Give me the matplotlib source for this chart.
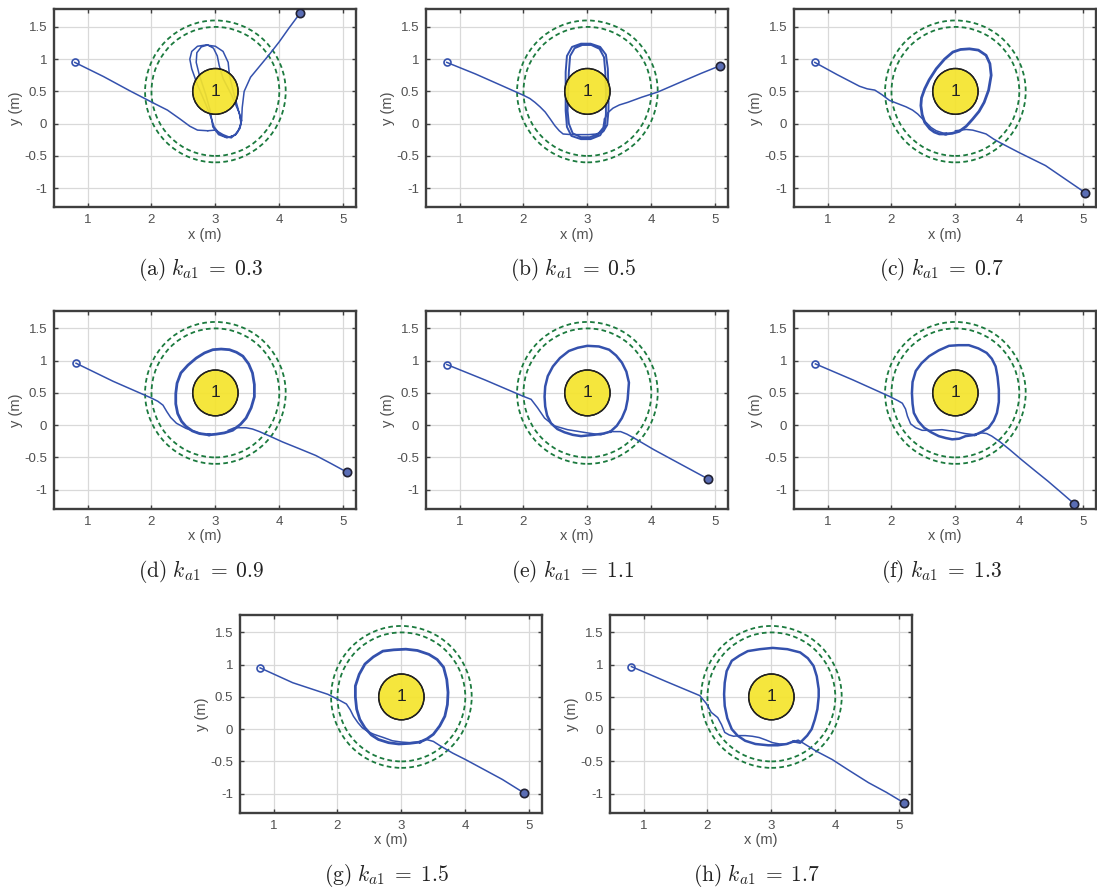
import matplotlib
matplotlib.use('Agg')
import matplotlib.pyplot as plt
from matplotlib.patches import Circle

plt.rcParams['font.family'] = ['Liberation Sans', 'DejaVu Sans']
plt.rcParams['mathtext.fontset'] = 'cm'

# ---------------- data ----------------
gains = ['0.3', '0.5', '0.7', '0.9', '1.1', '1.3', '1.5', '1.7']
letters = ['a', 'b', 'c', 'd', 'e', 'f', 'g', 'h']

xticks = [1, 2, 3, 4, 5]
xtick_labels = ['1', '2', '3', '4', '5']
yticks = [-1, -0.5, 0, 0.5, 1, 1.5]
ytick_labels = ['-1', '-0.5', '0', '0.5', '1', '1.5']

obstacle_center = (3.0, 0.5)
obstacle_radius = 0.355
safety_radii = [1.0, 1.1]
obstacle_label = '1'

a_approach = [(0.80, 0.95), (1.25, 0.73), (1.66, 0.51), (2.05, 0.31), (2.25, 0.21), (2.45, 0.07),
              (2.60, -0.04), (2.72, -0.10), (2.88, -0.11)]
a_loop = [(2.88, -0.11), (3.00, -0.10), (3.12, -0.17), (3.22, -0.21), (3.32, -0.17), (3.39, -0.05),
          (3.40, 0.05), (3.35, 0.25), (3.28, 0.50), (3.22, 0.75), (3.20, 0.95), (3.12, 1.12),
          (3.00, 1.20), (2.85, 1.22), (2.72, 1.20), (2.63, 1.12), (2.60, 1.00), (2.63, 0.85),
          (2.72, 0.60), (2.85, 0.30), (2.93, 0.10), (2.98, -0.05), (3.06, -0.15), (3.15, -0.20),
          (3.25, -0.22), (3.35, -0.13), (3.40, 0.00), (3.38, 0.15), (3.25, 0.45), (3.12, 0.70),
          (3.06, 0.90), (3.03, 1.05), (2.97, 1.17), (2.88, 1.22), (2.78, 1.19), (2.71, 1.10),
          (2.70, 0.95), (2.75, 0.75), (2.85, 0.45), (2.92, 0.20), (2.96, -0.05), (3.05, -0.17),
          (3.18, -0.22), (3.30, -0.18), (3.38, -0.08), (3.41, 0.05)]
a_exit = [(3.41, 0.05), (3.42, 0.25), (3.45, 0.50), (3.55, 0.72), (3.70, 0.90), (3.85, 1.08),
          (4.00, 1.27), (4.15, 1.48), (4.33, 1.72)]

b_approach = [(0.80, 0.95), (1.25, 0.77), (1.66, 0.59), (2.00, 0.44), (2.10, 0.39), (2.18, 0.33),
              (2.26, 0.26), (2.34, 0.18), (2.42, 0.07), (2.49, -0.03), (2.56, -0.11), (2.62, -0.16),
              (2.75, -0.17), (2.90, -0.17), (3.02, -0.17), (3.15, -0.16)]
b_loop = [(3.15, -0.16), (3.25, -0.12), (3.31, -0.02), (3.33, 0.20), (3.33, 0.50), (3.32, 0.85),
          (3.29, 1.07), (3.20, 1.19), (3.05, 1.24), (2.90, 1.24), (2.76, 1.19), (2.68, 1.05),
          (2.66, 0.80), (2.66, 0.50), (2.66, 0.20), (2.68, -0.05), (2.75, -0.19), (2.90, -0.24),
          (3.05, -0.24), (3.20, -0.18), (3.27, -0.06), (3.29, 0.15), (3.29, 0.50), (3.28, 0.80),
          (3.26, 1.03), (3.19, 1.16), (3.06, 1.22), (2.92, 1.22), (2.80, 1.17), (2.73, 1.05),
          (2.71, 0.80), (2.70, 0.50), (2.69, 0.20), (2.71, 0.00), (2.77, -0.15), (2.90, -0.21),
          (3.04, -0.21), (3.17, -0.16), (3.25, -0.06), (3.27, 0.07)]
b_exit = [(3.27, 0.07), (3.32, 0.17), (3.40, 0.24), (3.50, 0.29), (3.63, 0.33), (3.85, 0.41),
          (4.10, 0.49), (4.45, 0.64), (4.78, 0.78), (5.08, 0.90)]

c_approach = [(0.80, 0.95), (1.15, 0.76), (1.50, 0.58), (1.62, 0.54), (1.74, 0.52), (1.85, 0.45),
              (1.97, 0.36), (2.10, 0.31), (2.23, 0.26), (2.33, 0.21), (2.41, 0.15), (2.48, 0.08),
              (2.54, 0.02), (2.62, -0.06), (2.70, -0.11), (2.85, -0.16)]
c_loop = [(2.85, -0.16), (2.95, -0.15), (3.06, -0.12), (3.17, -0.04), (3.27, 0.07), (3.37, 0.19),
          (3.45, 0.33), (3.52, 0.52), (3.56, 0.75), (3.54, 0.93), (3.48, 1.06), (3.36, 1.14),
          (3.22, 1.16), (3.08, 1.15), (2.96, 1.11), (2.83, 1.00), (2.70, 0.85), (2.59, 0.68),
          (2.52, 0.54), (2.47, 0.40), (2.46, 0.28), (2.48, 0.14), (2.52, 0.02), (2.60, -0.08),
          (2.67, -0.13), (2.75, -0.16), (2.85, -0.16)]
c_exit = [(3.00, -0.11), (3.17, -0.09), (3.27, -0.10), (3.38, -0.13), (3.48, -0.16), (3.60, -0.24),
          (3.69, -0.29), (4.00, -0.45), (4.41, -0.65), (4.72, -0.86), (5.03, -1.07)]

d_approach = [(0.82, 0.96), (1.40, 0.68), (2.00, 0.42), (2.10, 0.37), (2.18, 0.31), (2.24, 0.21),
              (2.30, 0.12), (2.39, 0.03), (2.54, -0.05), (2.68, -0.10), (2.80, -0.14), (2.90, -0.15)]
d_loop = [(2.90, -0.15), (3.01, -0.14), (3.14, -0.12), (3.27, -0.08), (3.39, 0.01), (3.48, 0.11),
          (3.56, 0.27), (3.61, 0.44), (3.61, 0.63), (3.58, 0.81), (3.52, 0.95), (3.43, 1.07),
          (3.33, 1.13), (3.22, 1.17), (3.09, 1.18), (2.96, 1.17), (2.83, 1.12), (2.70, 1.04),
          (2.57, 0.93), (2.46, 0.81), (2.40, 0.65), (2.38, 0.49), (2.38, 0.33), (2.41, 0.18),
          (2.47, 0.06), (2.54, -0.02), (2.64, -0.09), (2.75, -0.13), (2.90, -0.15)]
d_exit = [(3.20, -0.08), (3.30, -0.04), (3.38, -0.04), (3.48, -0.04), (3.58, -0.06), (3.69, -0.10),
          (3.85, -0.17), (4.05, -0.26), (4.30, -0.36), (4.57, -0.47), (4.80, -0.59), (5.06, -0.73)]

e_approach = [(0.80, 0.94), (1.40, 0.70), (1.99, 0.45), (2.12, 0.40), (2.22, 0.27), (2.33, 0.11),
              (2.48, -0.01), (2.69, -0.07), (3.00, -0.12), (3.21, -0.15), (3.36, -0.10)]
e_loop = [(3.36, -0.10), (3.46, -0.01), (3.54, 0.11), (3.60, 0.25), (3.63, 0.40), (3.65, 0.66),
          (3.61, 0.83), (3.54, 0.97), (3.45, 1.08), (3.34, 1.17), (3.18, 1.22), (3.00, 1.23),
          (2.85, 1.20), (2.71, 1.15), (2.57, 1.04), (2.46, 0.91), (2.38, 0.76), (2.34, 0.60),
          (2.33, 0.44), (2.34, 0.29), (2.37, 0.15), (2.43, 0.03), (2.53, -0.06), (2.64, -0.11),
          (2.77, -0.15), (2.90, -0.17), (3.10, -0.15), (3.25, -0.13), (3.36, -0.10)]
e_exit = [(3.36, -0.10), (3.52, -0.10), (3.62, -0.14), (3.73, -0.20), (4.04, -0.38), (4.45, -0.60),
          (4.88, -0.83)]

f_approach = [(0.81, 0.95), (1.40, 0.70), (1.96, 0.45), (2.10, 0.38), (2.17, 0.34), (2.22, 0.25),
              (2.25, 0.14), (2.30, 0.02), (2.38, -0.04), (2.48, -0.08), (2.62, -0.08), (2.79, -0.07),
              (3.00, -0.10), (3.15, -0.13), (3.31, -0.15)]
f_loop = [(3.31, -0.15), (3.42, -0.10), (3.52, -0.04), (3.60, 0.07), (3.65, 0.19), (3.68, 0.36),
          (3.68, 0.55), (3.66, 0.75), (3.63, 0.91), (3.57, 1.03), (3.49, 1.12), (3.36, 1.19),
          (3.21, 1.24), (3.05, 1.24), (2.90, 1.23), (2.74, 1.16), (2.59, 1.07), (2.47, 0.96),
          (2.38, 0.84), (2.33, 0.67), (2.32, 0.50), (2.33, 0.33), (2.35, 0.19), (2.42, 0.06),
          (2.51, -0.04), (2.62, -0.11), (2.74, -0.17), (2.85, -0.20), (2.95, -0.22), (3.06, -0.21),
          (3.16, -0.17), (3.31, -0.15)]
f_exit = [(3.31, -0.15), (3.41, -0.12), (3.49, -0.13), (3.57, -0.17), (3.70, -0.26), (3.85, -0.38),
          (4.04, -0.54), (4.25, -0.71), (4.45, -0.87), (4.65, -1.04), (4.86, -1.22)]

g_approach = [(0.79, 0.95), (1.30, 0.72), (1.85, 0.54), (2.01, 0.46), (2.14, 0.39), (2.20, 0.30),
              (2.25, 0.20), (2.32, 0.10), (2.39, 0.02), (2.48, -0.04), (2.57, -0.08), (2.72, -0.13),
              (2.86, -0.18), (3.00, -0.20), (3.14, -0.21), (3.29, -0.20)]
g_loop = [(3.29, -0.20), (3.40, -0.15), (3.50, -0.08), (3.60, 0.05), (3.68, 0.20), (3.72, 0.38),
          (3.73, 0.57), (3.71, 0.77), (3.66, 0.96), (3.56, 1.08), (3.43, 1.16), (3.25, 1.22),
          (3.07, 1.24), (2.88, 1.23), (2.71, 1.21), (2.56, 1.12), (2.43, 1.01), (2.34, 0.85),
          (2.28, 0.67), (2.28, 0.50), (2.30, 0.31), (2.35, 0.15), (2.43, 0.02), (2.53, -0.09),
          (2.64, -0.16), (2.80, -0.21), (2.96, -0.23), (3.13, -0.22), (3.29, -0.20)]
g_exit = [(3.29, -0.20), (3.39, -0.16), (3.50, -0.19), (3.61, -0.26), (3.80, -0.37), (4.00, -0.47),
          (4.30, -0.63), (4.58, -0.78), (4.92, -0.99)]

h_approach = [(0.81, 0.97), (1.35, 0.74), (1.88, 0.52), (1.98, 0.40), (2.06, 0.26), (2.16, 0.18),
              (2.22, 0.07), (2.27, -0.05), (2.34, -0.09), (2.41, -0.11), (2.50, -0.10), (2.59, -0.10),
              (2.70, -0.11), (2.81, -0.13), (2.92, -0.17), (3.02, -0.21), (3.13, -0.23), (3.24, -0.23),
              (3.35, -0.19)]
h_loop = [(3.35, -0.19), (3.45, -0.21), (3.56, -0.10), (3.63, 0.00), (3.68, 0.15), (3.72, 0.31),
          (3.74, 0.50), (3.74, 0.62), (3.71, 0.82), (3.66, 0.98), (3.57, 1.10), (3.45, 1.19),
          (3.25, 1.24), (3.02, 1.26), (2.82, 1.24), (2.63, 1.21), (2.50, 1.14), (2.38, 1.06),
          (2.30, 0.90), (2.27, 0.72), (2.26, 0.54), (2.27, 0.36), (2.31, 0.17), (2.38, 0.00),
          (2.47, -0.10), (2.59, -0.18), (2.75, -0.23), (2.95, -0.25), (3.10, -0.25), (3.24, -0.23),
          (3.35, -0.19)]
h_exit = [(3.35, -0.19), (3.42, -0.17), (3.52, -0.23), (3.70, -0.34), (3.95, -0.47), (4.20, -0.63),
          (4.52, -0.83), (4.80, -0.98), (5.07, -1.14)]

approaches = [a_approach, b_approach, c_approach, d_approach, e_approach, f_approach, g_approach, h_approach]
loops = [a_loop, b_loop, c_loop, d_loop, e_loop, f_loop, g_loop, h_loop]
exits = [a_exit, b_exit, c_exit, d_exit, e_exit, f_exit, g_exit, h_exit]

# ---------------- layout / style ----------------
W, H = 1097, 888
AW, AH = 302, 198
axes_px = [(54, 9.5), (426, 9.5), (794, 9.5),
           (54, 311), (426, 311), (794, 311),
           (240, 615), (610, 615)]
loop_lw = [1.1, 1.4, 2.0, 2.0, 1.8, 1.8, 2.0, 1.8]

BLUE = '#3451ad'
GREEN = '#1b7a3e'
YELLOW = '#f5e42c'
SPINE = '#3f3f3f'
TXT = '#505050'

fig = plt.figure(figsize=(W / 100, H / 100), dpi=100)

for i in range(8):
    left, top = axes_px[i]
    ax = fig.add_axes([left / W, 1 - (top + AH) / H, AW / W, AH / H])
    ax.set_xlim(0.475, 5.2)
    ax.set_ylim(-1.3, 1.77)
    ax.set_xticks(xticks)
    ax.set_xticklabels(xtick_labels)
    ax.set_yticks(yticks)
    ax.set_yticklabels(ytick_labels)
    ax.grid(True, color='#d9d9d9', lw=0.9)
    ax.set_axisbelow(True)
    for s in ax.spines.values():
        s.set_color(SPINE)
        s.set_linewidth(1.7)
    ax.tick_params(direction='in', top=True, right=True, length=3, width=1.0,
                   colors=SPINE, labelcolor=TXT, labelsize=9.5, pad=5)

    for r in safety_radii:
        ax.add_patch(Circle(obstacle_center, r, fill=False, ec=GREEN, lw=1.3,
                            ls=(0, (2.6, 1.8)), zorder=2))

    ap, lp, ex = approaches[i], loops[i], exits[i]
    ax.plot([p[0] for p in ap], [p[1] for p in ap], color=BLUE, lw=1.1, zorder=3)
    ax.plot([p[0] for p in lp], [p[1] for p in lp], color=BLUE, lw=loop_lw[i], zorder=3)
    ax.plot([p[0] for p in ex], [p[1] for p in ex], color=BLUE, lw=1.1, zorder=3)

    ax.add_patch(Circle(obstacle_center, obstacle_radius, fc=YELLOW, ec='black', lw=1.0,
                        alpha=0.92, zorder=4))
    ax.add_patch(Circle(obstacle_center, obstacle_radius, fill=False, ec='#222222', lw=1.0,
                        zorder=4))
    ax.text(obstacle_center[0], obstacle_center[1], obstacle_label, ha='center', va='center',
            fontsize=12.5, color='#222222', zorder=5)

    ax.plot([ap[0][0]], [ap[0][1]], 'o', ms=5, mfc='none', mec=BLUE, mew=1.2, zorder=6)
    ax.plot([ex[-1][0]], [ex[-1][1]], 'o', ms=6, mfc='#5a6db5', mec='#222233', mew=1.2, zorder=6)

    ax.set_xlabel('x (m)', fontsize=10.5, color=TXT, labelpad=1)
    ax.set_ylabel('y (m)', fontsize=10.5, color=TXT, labelpad=1)

    cx = (left + AW / 2 - 4) / W
    cy = 1 - (top + AH + 62) / H
    fig.text(cx, cy, r'$\mathrm{(%s)}\ k_{a1}\;=\;%s$' % (letters[i], gains[i]),
             ha='center', va='center', fontsize=15.5, color='#222222')

fig.savefig('out.png', dpi=100)
